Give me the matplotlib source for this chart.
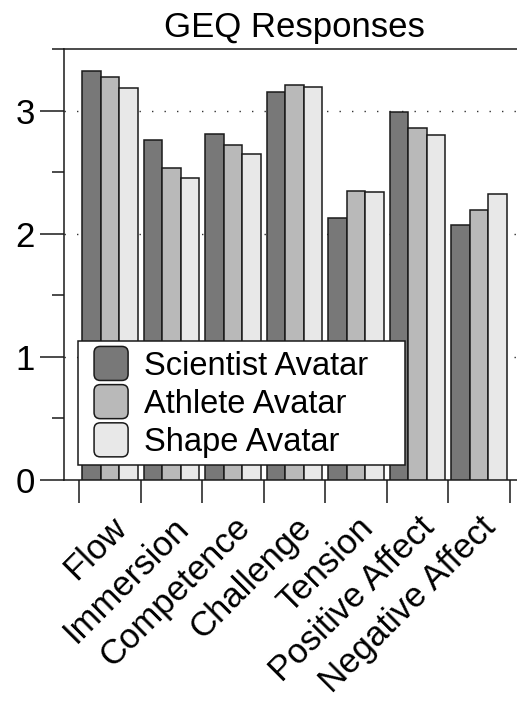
import matplotlib
matplotlib.use("Agg")
import matplotlib.pyplot as plt
import numpy as np
from matplotlib.patches import FancyBboxPatch
from matplotlib.container import BarContainer
from matplotlib.legend_handler import HandlerPatch
from matplotlib.ticker import FixedLocator

plt.rcParams['font.family'] = ['Liberation Sans', 'DejaVu Sans']

categories = ["Flow", "Immersion", "Competence", "Challenge", "Tension",
              "Positive Affect", "Negative Affect"]
series_names = ["Scientist Avatar", "Athlete Avatar", "Shape Avatar"]
scientist = [3.32, 2.76, 2.81, 3.15, 2.13, 2.99, 2.07]
athlete = [3.27, 2.53, 2.72, 3.21, 2.35, 2.86, 2.19]
shape = [3.18, 2.45, 2.65, 3.19, 2.34, 2.80, 2.32]
colors = ["#787878", "#b9b9b9", "#e8e8e8"]

fig = plt.figure(figsize=(5.17, 7.02), dpi=100)
ax = fig.add_axes([64/517, 1-480/702, 461/517, 431/702])

x = np.arange(len(categories))
w = 0.3
for i, (vals, c, name) in enumerate(zip([scientist, athlete, shape], colors, series_names)):
    ax.bar(x + (i-1)*w, vals, w, color=c, edgecolor="#1a1a1a", linewidth=1.1,
           label=name, zorder=3)

ax.set_xlim(-0.75, 6.75)
ax.set_ylim(0, 3.5)

for s in ['top', 'left', 'bottom', 'right']:
    ax.spines[s].set_linewidth(1.1)
    ax.spines[s].set_color("#1a1a1a")

ax.yaxis.set_major_locator(FixedLocator([0, 1, 2, 3]))
ax.yaxis.set_minor_locator(FixedLocator([0.5, 1.5, 2.5, 3.5]))
ax.tick_params(axis='y', which='major', direction='out', length=17, width=1.1,
               labelsize=25, pad=4, color="#1a1a1a")
ax.tick_params(axis='y', which='minor', direction='out', length=8.5, width=1.1,
               color="#1a1a1a")

ax.set_xticks(x)
ax.set_xticklabels(categories, rotation=45, ha='right', va='top',
                   rotation_mode='anchor', fontsize=25)
ax.xaxis.set_minor_locator(FixedLocator(np.arange(-0.5, 7.0, 1.0)))
ax.tick_params(axis='x', which='major', length=0, pad=22)
ax.tick_params(axis='x', which='minor', direction='out', length=16.5, width=1.1,
               color="#1a1a1a")

for yv in [1, 2, 3]:
    ax.axhline(yv, color="#333333", linewidth=1.0, linestyle=(0, (1, 8)), zorder=1)

ax.set_title("GEQ Responses", fontsize=25, pad=9)

LEG_FS = 23.5
OFFSET_PT = 6.5
BOX_PT = 24.5

def make_round(legend, orig_handle, xdescent, ydescent, width, height, fontsize):
    cy = -ydescent + height / 2.0
    return FancyBboxPatch((-xdescent + OFFSET_PT, cy - BOX_PT / 2.0), BOX_PT, BOX_PT,
                          boxstyle="round,pad=0,rounding_size=4.5")

def update_first(tgt, src):
    children = src.get_children()
    if children:
        tgt.update_from(children[0])

leg = ax.legend(loc='lower left', bbox_to_anchor=(0.0304, 0.0348, 0.709, 0.292),
                mode='expand', fontsize=LEG_FS,
                handlelength=(OFFSET_PT + BOX_PT) / LEG_FS, handleheight=1.043,
                labelspacing=0.153, handletextpad=0.49, borderpad=0.215,
                borderaxespad=0, fancybox=False, framealpha=1, edgecolor="#1a1a1a",
                handler_map={BarContainer: HandlerPatch(patch_func=make_round,
                                                        update_func=update_first)})
leg.get_frame().set_linewidth(1.1)
leg.set_zorder(5)

fig.savefig("out.png", dpi=100)
